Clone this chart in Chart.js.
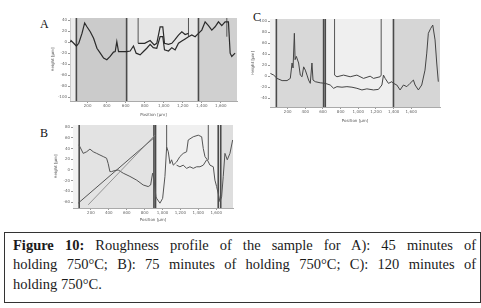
<!DOCTYPE html>
<html>
<head>
<meta charset="utf-8">
<script src="https://cdn.jsdelivr.net/npm/chart.js@4.4.1/dist/chart.umd.min.js"></script>
<style>
  body { margin: 0; width: 481px; height: 308px; background: #fff; position: relative; overflow: hidden; }
  canvas { position: absolute; }
  .tag { position: absolute; font-family: "Liberation Serif", serif; font-size: 12px; color: #111; }
  #caption {
    position: absolute; left: 4px; top: 232px; width: 463px; height: 66px;
    border: 1px solid #333; padding: 3px 4px 0 8px;
    font-family: "Liberation Serif", serif; font-size: 14.5px; line-height: 19.3px; color: #1b1b1b;
  }
  #caption .j { text-align: justify; text-align-last: justify; }
</style>
</head>
<body>
<div class="tag" style="left:40px;top:17px">A</div>
<div class="tag" style="left:40px;top:126px">B</div>
<div class="tag" style="left:253px;top:10px">C</div>
<canvas id="chartA" width="190" height="104" style="left:50px;top:14px"></canvas>
<canvas id="chartB" width="183" height="102" style="left:53px;top:121px"></canvas>
<canvas id="chartC" width="193" height="110" style="left:250px;top:14px"></canvas>
<div id="caption">
  <div class="j"><b>Figure 10:</b> Roughness profile of the sample for A): 45 minutes of</div>
  <div class="j">holding 750°C; B): 75 minutes of holding 750°C; C): 120 minutes of</div>
  <div>holding 750°C.</div>
</div>
<script>
// ---- tick labels ----
const xTicks = [200, 400, 600, 800, 1000, 1200, 1400, 1600];
const xTickLabels = ["200", "400", "600", "800", "1,000", "1,200", "1,400", "1,600"];
const yTicksA = [-100, -80, -60, -40, -20, 0, 20, 40];
const yTicksB = [-60, -40, -20, 0, 20, 40, 60, 80];
const yTicksC = [-40, -20, 0, 20, 40, 60, 80, 100];

// ---- panel A: 45 min ----
const aPos = [20, 26, 54, 82, 107, 141, 169, 193, 228, 263, 298, 333, 368, 402, 437, 472, 490, 507, 525, 560, 612, 647, 682, 710, 752, 787, 822, 857, 890, 927, 962, 990, 1008, 1050, 1085, 1120, 1155, 1190, 1225, 1260, 1295, 1330, 1365, 1400, 1435, 1470, 1505, 1540, 1575, 1610, 1645, 1680, 1698, 1715, 1750];
const aHeight = [0, 3, -2, -7, -2, 16, 35, 28, 19, 7, -11, -20, -29, -32, -26, -18, -17, 1, -17, -17, -17, -16, -7, -20, -23, -17, -11, -4, -10, -11, 10, 10, -14, -16, -10, -14, -2, 2, 6, 10, 13, 10, 16, 22, 37, 30, 22, 28, 37, 30, 37, 37, -20, -26, -20];
const aPos2 = [731, 800, 857, 900, 927, 962, 990, 1008, 1050, 1085, 1120, 1155, 1190, 1225, 1260];
const aHeight2 = [-2, -2, 3, -5, -2, 28, 28, -2, -4, -2, 5, 13, 19, 14, 16];
const aRegions = [20, 82, 610, 1365, 1770];
const aMarks = [82, 610, 1365];
const aCursors = [731, 1260, 1663];
const aCursorEnds = [-2, 10, 10];

// ---- panel B: 75 min ----
const bPos = [66, 114, 152, 189, 226, 264, 301, 338, 375, 393, 412, 431, 468, 505, 561, 636, 711, 784, 840, 867, 889, 904, 926, 934, 971, 1001, 1027, 1046, 1064, 1083, 1101, 1120, 1157, 1194, 1231, 1269, 1287, 1343, 1399, 1437, 1455, 1474, 1500, 1530, 1567, 1585, 1604, 1622, 1641, 1660, 1678, 1697, 1723, 1753, 1783];
const bHeight = [47, 31, 34, 39, 34, 31, 28, 25, 22, 12, -3, -3, -1, 0, -6, -12, -19, -28, -31, -28, -6, -16, -50, -53, -62, -53, -12, 43, 34, 12, 19, 9, 15, 25, 31, 34, 56, 62, 65, 62, 40, 25, 19, 9, 6, -19, -31, -44, -59, -50, -12, 31, 19, 31, 56];
const bPos2 = [1157, 1194, 1231, 1269, 1306, 1343, 1381, 1418, 1455, 1493];
const bHeight2 = [9, 6, 9, 3, 6, 3, 6, 6, 9, 19];
const bSlope1 = [58, 896];
const bSlopeH1 = [-62, 59];
const bSlope2 = [170, 915];
const bSlopeH2 = [-65, 65];
const bRegions = [0, 69, 904, 1622, 1787];
const bMarks = [69, 904, 922, 1622, 1650];
const bCursors = [1046, 1511];
const bCursorEnds = [43, 19];

// ---- panel C: 120 min ----
const cPos = [5, 42, 80, 137, 193, 230, 250, 261, 276, 284, 298, 324, 343, 363, 381, 400, 419, 437, 456, 475, 487, 513, 569, 626, 682, 720, 758, 815, 871, 928, 984, 1041, 1097, 1172, 1228, 1267, 1285, 1304, 1341, 1380, 1398, 1436, 1473, 1511, 1549, 1586, 1624, 1643, 1680, 1718, 1755, 1775, 1793, 1820, 1843, 1869, 1888, 1906];
const cHeight = [5, 2, -4, -8, -8, -4, 24, 15, 78, 30, 36, 24, 2, -1, 17, 11, 2, -7, -13, 24, -7, -10, -12, -13, -16, -22, -19, -20, -19, -20, -22, -25, -23, -25, -24, -16, 2, -4, -13, -10, -13, -16, -25, -16, -19, -13, -7, -16, -25, -16, 11, 42, 78, 87, 93, 66, 24, -10];
const cPos2 = [731, 758, 833, 908, 984, 1059, 1134, 1172, 1247, 1259];
const cHeight2 = [2, -1, 2, -1, 2, -4, 0, -4, -1, 2];
const cRegions = [0, 72, 607, 1398, 1925];
const cMarks = [72, 607, 626, 1398];
const cCursors = [731, 1259];
const cCursorEnds = [2, 2];

const shades = ["#ededed", "#cbcbcb", "#e6e6e6", "#d0d0d0"];
const shadesB = ["#f2f2f2", "#e3e3e3", "#f0f0f0", "#dedede"];
const shadesC = ["#f0f0f0", "#d8d8d8", "#efefef", "#d6d6d6"];

const pts = (xs, ys) => xs.map((x, i) => ({ x: x, y: ys[i] }));

// shaded measuring zones plus the marker / cursor lines, placed with the chart's scales
const zonePlugin = (cfg) => ({
  id: "zones",
  beforeDatasetsDraw: (chart) => {
    const c = chart.ctx;
    const xs = chart.scales.x;
    const ys = chart.scales.y;
    const area = chart.chartArea;
    c.save();
    for (let i = 0; i < cfg.regions.length - 1; i++) {
      const x1 = xs.getPixelForValue(cfg.regions[i]);
      const x2 = xs.getPixelForValue(cfg.regions[i + 1]);
      c.fillStyle = cfg.shades[i];
      c.fillRect(x1, area.top, x2 - x1, area.bottom - area.top);
    }
    c.strokeStyle = "#4a4a4a";
    c.lineWidth = 1.6;
    cfg.marks.forEach((m) => {
      const x = xs.getPixelForValue(m);
      c.beginPath();
      c.moveTo(x, area.top);
      c.lineTo(x, area.bottom);
      c.stroke();
    });
    c.strokeStyle = "#555";
    c.lineWidth = 1;
    cfg.cursors.forEach((m, i) => {
      const x = xs.getPixelForValue(m);
      c.beginPath();
      c.moveTo(x, area.top);
      c.lineTo(x, ys.getPixelForValue(cfg.cursorEnds[i]));
      c.stroke();
    });
    c.restore();
  },
});

const makePanel = (id, cfg) => {
  const datasets = [];
  const line = (data, color, width) => {
    datasets.push({
      data: data,
      showLine: true,
      borderColor: color,
      borderWidth: width,
      pointRadius: 0,
      tension: 0,
    });
  };
  (cfg.extra || []).forEach((d) => line(d, "#8a8a8a", 0.9));
  cfg.series.forEach((d) => line(d, cfg.lineColor, cfg.lineWidth));

  return new Chart(document.getElementById(id), {
    type: "scatter",
    data: { datasets: datasets },
    plugins: [zonePlugin(cfg)],
    options: {
      responsive: false,
      animation: false,
      layout: { padding: { top: cfg.padTop, right: 3, left: 0, bottom: 0 } },
      plugins: { legend: { display: false }, tooltip: { enabled: false } },
      scales: {
        x: {
          type: "linear",
          min: cfg.xMin,
          max: cfg.xMax,
          afterBuildTicks: (s) => { s.ticks = xTicks.map((v) => ({ value: v })); },
          afterFit: (s) => { s.height = cfg.xAxisH; },
          ticks: {
            font: { family: "DejaVu Sans", size: 4 },
            color: "#666",
            padding: 1,
            maxRotation: 0,
            autoSkip: false,
            callback: (v, i) => xTickLabels[i],
          },
          grid: { drawOnChartArea: false, tickLength: 2, color: "#999" },
          border: { color: "#aaa" },
          title: { display: true, text: "Position [µm]", font: { family: "DejaVu Sans", size: 4 }, color: "#555", padding: 1 },
        },
        y: {
          type: "linear",
          min: cfg.yMin,
          max: cfg.yMax,
          afterBuildTicks: (s) => { s.ticks = cfg.yTicks.map((v) => ({ value: v })); },
          afterFit: (s) => { s.width = 20; },
          ticks: {
            font: { family: "DejaVu Sans", size: 4 },
            color: "#666",
            padding: 1,
            autoSkip: false,
          },
          grid: { drawOnChartArea: false, tickLength: 2, color: "#999" },
          border: { color: "#aaa" },
          title: { display: true, text: "Height [µm]", font: { family: "DejaVu Sans", size: 4 }, color: "#555", padding: 1 },
        },
      },
    },
  });
};

makePanel("chartA", {
  xMin: 15, xMax: 1770, yMin: -107, yMax: 44, yTicks: yTicksA, padTop: 4, xAxisH: 17,
  regions: aRegions, shades: shades, marks: aMarks,
  cursors: aCursors, cursorEnds: aCursorEnds,
  lineColor: "#2a2a2a", lineWidth: 1.2,
  series: [pts(aPos2, aHeight2), pts(aPos, aHeight)],
});

makePanel("chartB", {
  xMin: 0, xMax: 1787, yMin: -71, yMax: 84, yTicks: yTicksB, padTop: 4, xAxisH: 15,
  regions: bRegions, shades: shadesB, marks: bMarks,
  cursors: bCursors, cursorEnds: bCursorEnds,
  lineColor: "#555", lineWidth: 1,
  extra: [pts(bSlope2, bSlopeH2)],
  series: [pts(bSlope1, bSlopeH1), pts(bPos2, bHeight2), pts(bPos, bHeight)],
});

makePanel("chartC", {
  xMin: 0, xMax: 1925, yMin: -56, yMax: 104, yTicks: yTicksC, padTop: 5, xAxisH: 17,
  regions: cRegions, shades: shadesC, marks: cMarks,
  cursors: cCursors, cursorEnds: cCursorEnds,
  lineColor: "#444", lineWidth: 1,
  series: [pts(cPos2, cHeight2), pts(cPos, cHeight)],
});
</script>
</body>
</html>
